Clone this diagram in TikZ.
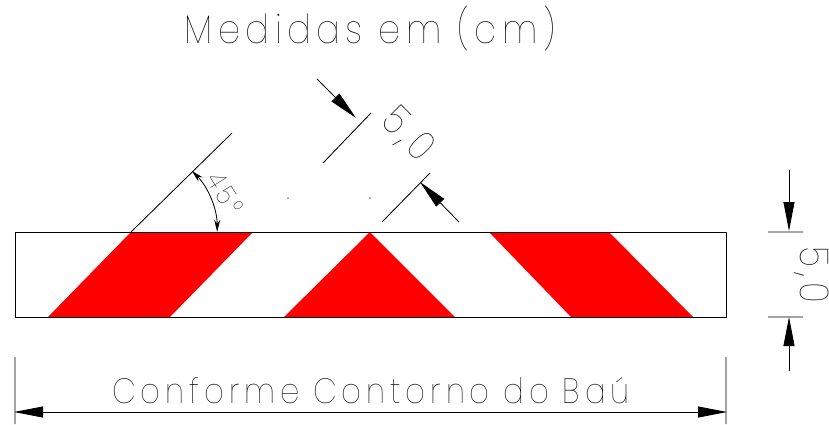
\documentclass[tikz,border=0pt]{standalone}
\usepackage{fontspec}
\setmainfont{Poppins}[UprightFont=* Thin,LetterSpace=14,FakeStretch=0.88]
\usetikzlibrary{arrows.meta}
\definecolor{faixa}{RGB}{255,0,0}
\tikzset{
	linha/.style={draw=black,line width=0.42pt},
	cota/.style={linha,-{Triangle[length=14.5pt,width=5.5pt]}},
	cotaarco/.style={linha,{Stealth[length=6pt,width=3pt]}-{Stealth[length=6pt,width=3pt]}},
	texto/.style={inner sep=0pt,text=black}
}
\begin{document}
\begin{tikzpicture}[x=0.5pt,y=-0.5pt,line join=round,line cap=butt]
	\useasboundingbox (0,0) rectangle (829,424);
	\path
	(15,232) coordinate (A) (726,232) coordinate (B) (726,317) coordinate (C) (15,317) coordinate (D)
	(131,232) coordinate (O) (232,133) coordinate (P) (217,232) coordinate (Q) (192,171) coordinate (R)
	(323,163) coordinate (E) (371,113) coordinate (F) (317,79) coordinate (G) (356,118) coordinate (H)
	(382,222) coordinate (I) (430,173) coordinate (J) (459,222) coordinate (K) (420,182) coordinate (L)
	(768,232) coordinate (M) (803,232) coordinate (N) (768,317) coordinate (S) (803,317) coordinate (T)
	(789,170) coordinate (U) (789,231) coordinate (V) (789,371) coordinate (W) (789,317) coordinate (Z)
	(15,357) coordinate (A1) (15,424) coordinate (A2) (726,357) coordinate (B1) (726,424) coordinate (B2)
	(14,412) coordinate (X1) (727,412) coordinate (X2)
	;
	% faixas
	\fill[faixa] (48,317)--(131,232)--(253,232)--(170,317)--cycle;
	\fill[faixa] (284,317)--(370,232)--(455,317)--cycle;
	\fill[faixa] (489,232)--(609,232)--(693,317)--(571,317)--cycle;
	\draw[linha] (A)--(B)--(C)--(D)--cycle;
	% 45 graus
	\draw[linha] (O)--(P);
	\draw[cotaarco] (R) arc[start angle=-45,end angle=0,radius=86];
	% cotas
	\draw[linha] (E)--(F) (I)--(J) (M)--(N) (S)--(T) (A1)--(A2) (B1)--(B2);
	\draw[cota] (G)--(H);
	\draw[cota] (K)--(L);
	\draw[cota] (U)--(V);
	\draw[cota] (W)--(Z);
	\draw[linha,{Triangle[length=14.5pt,width=5.5pt]}-{Triangle[length=14.5pt,width=5.5pt]}] (X1)--(X2);
	\foreach \p in {288,370}
	\fill[black!50] (\p,198) circle (0.5pt);
	% textos
	\node[texto,font=\fontsize{20}{24}\selectfont] (titulo) at (370,29) {Medidas em (cm)};
	\node[texto,font=\fontsize{13.5}{16}\selectfont,rotate=-58] (angulo) at (225,193) {45°};
	\node[texto,font=\fontsize{20}{24}\selectfont,rotate=-45] (diag) at (407,135) {5,0};
	\node[texto,font=\fontsize{20}{24}\selectfont,rotate=-90] (altura) at (812,275) {5,0};
	\node[texto,font=\fontsize{17.5}{21}\selectfont] (contorno) at (371,391) {Conforme Contorno do Baú};
\end{tikzpicture}
\end{document}
